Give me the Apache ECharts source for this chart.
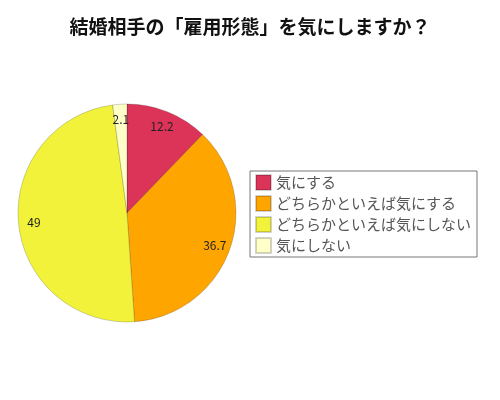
<!DOCTYPE html>
<html>
<head>
<meta charset="utf-8">
<script src="https://cdn.jsdelivr.net/npm/echarts@6/dist/echarts.min.js"></script>
<style>
  html, body { margin: 0; padding: 0; background: #fff; }
  #chart { width: 500px; height: 400px; }
</style>
</head>
<body>
<div id="chart"></div>
<script>
// --- data ------------------------------------------------------------------
const categories = ["気にする", "どちらかといえば気にする", "どちらかといえば気にしない", "気にしない"];
const values = [12.2, 36.7, 49, 2.1];
const colors = ["#DC3358", "#FFA500", "#F2F23A", "#FFFFC8"];

const FONT = "'Noto Sans CJK JP', 'Noto Sans', sans-serif";
const CENTER = [127, 213];
const R = 109;

const slices = categories.map((name, i) => ({ name, value: values[i], itemStyle: { color: colors[i] } }));

const chart = echarts.init(document.getElementById("chart"), null, { renderer: "canvas" });
chart.setOption({
  animation: false,
  title: {
    text: "結婚相手の「雇用形態」を気にしますか？",
    left: "center",
    top: 12,
    textStyle: { fontFamily: FONT, fontSize: 19, fontWeight: "bold", color: "#111" },
  },
  legend: {
    orient: "vertical",
    left: 250,
    top: 171,
    icon: "rect",
    itemWidth: 15,
    itemHeight: 15,
    itemGap: 4,
    padding: [3, 6, 3, 5],
    borderColor: "#777",
    borderWidth: 1,
    data: categories,
    textStyle: { fontFamily: FONT, fontSize: 15, lineHeight: 15, color: "#555" },
  },
  series: [
    {
      type: "pie",
      center: CENTER,
      radius: [0, R],
      startAngle: 90,
      clockwise: true,
      silent: true,
      label: { show: false },
      labelLine: { show: false },
      itemStyle: { borderColor: "rgba(0,0,0,0.18)", borderWidth: 1 },
      data: slices,
    },
    // label ring: places values at ~0.83 of the radius
    {
      type: "pie",
      center: CENTER,
      radius: [72, R],
      startAngle: 90,
      clockwise: true,
      silent: true,
      legendHoverLink: false,
      itemStyle: { color: "transparent" },
      label: {
        show: true,
        position: "inside",
        formatter: (p) => p.value,
        fontFamily: FONT,
        fontSize: 12,
        color: "#222",
      },
      labelLine: { show: false },
      data: categories.map((name, i) => ({ name: name + " ", value: values[i] })),
    },
  ],
});
</script>
</body>
</html>
